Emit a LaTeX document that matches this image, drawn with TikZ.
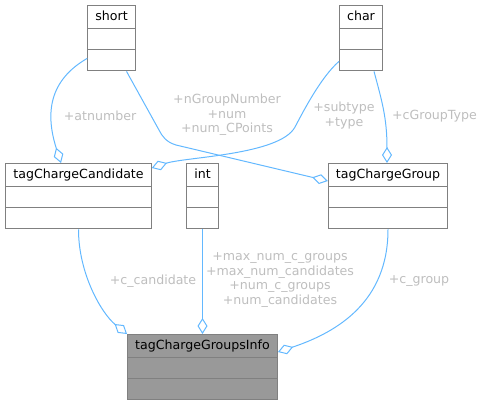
\documentclass[tikz,border=0pt]{standalone}
\usepackage{fontspec}
\setmainfont{DejaVu Sans}
\usetikzlibrary{arrows.meta,shapes.multipart}
\definecolor{edgeblue}{HTML}{63B8FF}
\definecolor{labelgrey}{HTML}{BEBEBE}
\definecolor{boxgrey}{HTML}{808080}
\definecolor{mainfill}{HTML}{999999}
\newcommand{\aggr}{{Diamond[open,length=16pt,width=10pt]}-}
\newcommand{\cname}[1]{\rule[-3pt]{0pt}{12pt}#1\nodepart{two}\nodepart{three}}

\begin{document}
\begin{tikzpicture}[x=1pt,y=-1pt,
  cls/.style={rectangle split, rectangle split parts=3, draw=boxgrey, line width=1.2pt,
    fill=white, anchor=north, inner xsep=7.5pt, inner ysep=4.5pt,
    rectangle split empty part height=11pt, rectangle split empty part depth=0pt,
    font=\fontsize{12.6}{14.5}\selectfont},
  lbl/.style={text=labelgrey, align=center, font=\fontsize{12.6}{14.5}\selectfont},
  edge/.style={draw=edgeblue, line width=1pt}]
\useasboundingbox (0,0) rectangle (484,405);
%classes
\node[cls] (short) at (111.5,5) {\cname{short}};
\node[cls] (char) at (361,5) {\cname{char}};
\node[cls] (tagChargeCandidate) at (78.5,163) {\cname{tagChargeCandidate}};
\node[cls] (int) at (202.5,163) {\cname{int}};
\node[cls] (tagChargeGroup) at (388,163) {\cname{tagChargeGroup}};
\node[cls,fill=mainfill] (tagChargeGroupsInfo) at (202.5,334) {\cname{tagChargeGroupsInfo}};
%members
\draw[edge,\aggr] ([xshift=-17.5pt]tagChargeCandidate.north) .. controls +(-16,-50) and +(-38,22) .. ([yshift=13pt]short.south west);
\draw[edge,\aggr] ([yshift=-18pt]tagChargeGroup.north west) -- (176,145) .. controls (166,142) and (162,136) .. (159,130) -- ([xshift=15pt]short.south);
\draw[edge,\aggr] ([yshift=-5pt]tagChargeCandidate.north east) .. controls (185,157) and (280,155) .. (295,127) .. controls (302,114) and (320,78) .. ([yshift=10pt]char.south west);
\draw[edge,\aggr] ([xshift=-1pt]tagChargeGroup.north) .. controls +(0,-45) and +(8,30) .. ([xshift=13pt]char.south);
\draw[edge,\aggr] (tagChargeGroupsInfo.north west) .. controls +(-25,-20) and +(0,45) .. (tagChargeCandidate.south);
\draw[edge,\aggr] (tagChargeGroupsInfo.north) -- (int.south);
\draw[edge,\aggr] ([yshift=-18pt]tagChargeGroupsInfo.north east) .. controls +(60,-20) and +(0,72) .. (tagChargeGroup.south);
%labels
\node[lbl] (lAtnumber) at (100,116) {+atnumber};
\node[lbl] (lGroupNumber) at (227,115) {+nGroupNumber\\+num\\+num\_CPoints};
\node[lbl] (lType) at (344,115.5) {+subtype\\+type};
\node[lbl] (lCGroupType) at (434.5,116) {+cGroupType};
\node[lbl] (lCandidate) at (153,281) {+c\_candidate};
\node[lbl] (lCounts) at (280,280) {+max\_num\_c\_groups\\+max\_num\_candidates\\+num\_c\_groups\\+num\_candidates};
\node[lbl] (lCGroup) at (419,281) {+c\_group};
\end{tikzpicture}
\end{document}
